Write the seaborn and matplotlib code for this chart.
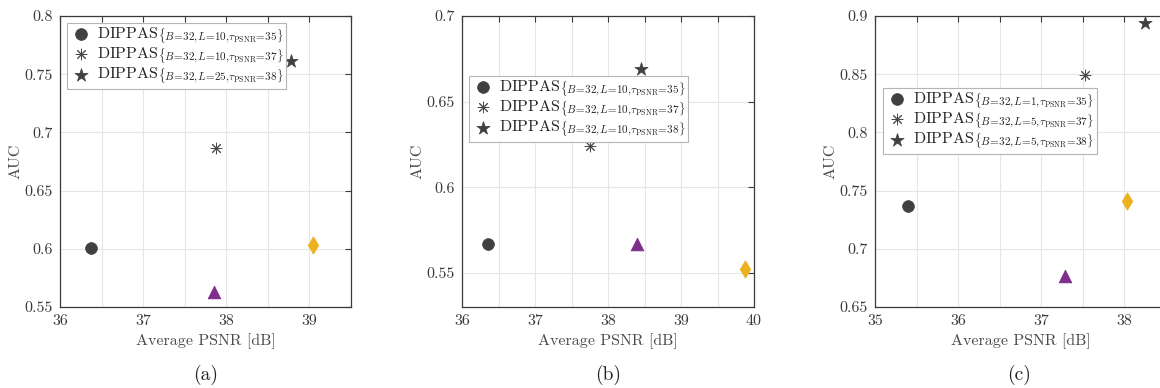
import numpy as np
import pandas as pd
import matplotlib
matplotlib.use("Agg")
import matplotlib.pyplot as plt
from matplotlib.ticker import MultipleLocator, FuncFormatter
import seaborn as sns

# ---- data: (Average PSNR [dB], AUC) per method, one panel per scenario ----
methods = ["dippas_35", "dippas_37", "dippas_38", "baseline_tri", "baseline_dia"]

psnr_a = [36.37, 37.88, 38.78, 37.85, 39.04]
auc_a = [0.601, 0.687, 0.761, 0.563, 0.603]

psnr_b = [36.35, 37.75, 38.45, 38.40, 39.88]
auc_b = [0.567, 0.624, 0.669, 0.567, 0.552]

psnr_c = [35.40, 37.52, 38.25, 37.28, 38.03]
auc_c = [0.737, 0.849, 0.894, 0.677, 0.741]

# legend entries: (L, tau_PSNR) of each DIPPAS configuration, B fixed to 32
cfg_a = [(10, 35), (10, 37), (25, 38)]
cfg_b = [(10, 35), (10, 37), (10, 38)]
cfg_c = [(1, 35), (5, 37), (5, 38)]

captions = ["(a)", "(b)", "(c)"]


def dippas_label(L, tau):
    return (r"DIPPAS$_{\{B\!=\!32,\!L\!=\!%d,\!\tau_{\mathrm{PSNR}}\!=\!%d\}}$"
            % (L, tau))


# ---- styling ----
sns.set_theme(style="white")
plt.rcParams.update({
    "font.family": "serif",
    "font.serif": ["cmr10", "DejaVu Serif"],
    "mathtext.fontset": "cm",
    "axes.formatter.use_mathtext": True,
    "axes.unicode_minus": False,
})

GRAY = "#404040"
PURPLE = "#7E2F8E"
ORANGE = "#EDB120"
AXIS = "#3a3a3a"

marker_styles = {
    "dippas_35": dict(marker="o", color=GRAY, s=72),
    "dippas_37": dict(marker=(8, 2, 0), color="#4a4a4a", s=60, linewidth=0.7),
    "dippas_38": dict(marker="*", color=GRAY, s=100),
    "baseline_tri": dict(marker="^", color=PURPLE, s=85),
    "baseline_dia": dict(marker="d", color=ORANGE, s=80),
}

W, H = 1160, 388
fig = plt.figure(figsize=(W / 100, H / 100), dpi=100)

panels = [
    dict(psnr=psnr_a, auc=auc_a, cfg=cfg_a, left=60, xlim=(36, 39.5),
         ylim=(0.55, 0.80), legend_xy=(67, 23)),
    dict(psnr=psnr_b, auc=auc_b, cfg=cfg_b, left=462, xlim=(36, 40),
         ylim=(0.53, 0.70), legend_xy=(469, 76)),
    dict(psnr=psnr_c, auc=auc_c, cfg=cfg_c, left=875, xlim=(35, 38.5),
         ylim=(0.65, 0.90), legend_xy=(883, 88)),
]
ax_w = [291, 292, 291]
ax_top, ax_bottom = 16, 307


def half_formatter(v, pos):
    if abs(v - round(v)) < 1e-6:
        return "%d" % round(v)
    return ""


for i, p in enumerate(panels):
    ax = fig.add_axes([p["left"] / W, 1 - ax_bottom / H, ax_w[i] / W,
                       (ax_bottom - ax_top) / H])
    df = pd.DataFrame({"method": methods, "psnr": p["psnr"], "auc": p["auc"]})
    for j, m in enumerate(methods):
        row = df[df["method"] == m]
        st = dict(marker_styles[m])
        lab = dippas_label(*p["cfg"][j]) if j < 3 else None
        kw = dict(marker=st["marker"], s=st["s"], ax=ax, label=lab, zorder=3)
        if isinstance(st["marker"], tuple):
            kw.update(color=st["color"], linewidth=st["linewidth"])
        else:
            kw.update(color=st["color"], edgecolor=st["color"], linewidth=0.5)
        sns.scatterplot(data=row, x="psnr", y="auc", **kw)

    ax.set_xlim(*p["xlim"])
    ax.set_ylim(*p["ylim"])
    ax.xaxis.set_major_locator(MultipleLocator(0.5))
    ax.xaxis.set_major_formatter(FuncFormatter(half_formatter))
    ax.yaxis.set_major_locator(MultipleLocator(0.05))
    ax.yaxis.set_major_formatter(FuncFormatter(lambda v, pos: "%g" % round(v, 4)))
    ax.grid(True, color="#e6e6e6", linewidth=0.8, zorder=0)
    ax.set_axisbelow(True)
    ax.tick_params(direction="in", length=4, width=0.8, top=True, right=True,
                   colors=AXIS, labelsize=11.5, pad=5)
    for sp in ax.spines.values():
        sp.set_color(AXIS)
        sp.set_linewidth(0.9)
    ax.set_xlabel("Average PSNR [dB]", fontsize=11.5, color="#4a4a4a", labelpad=4)
    ax.set_ylabel("AUC", fontsize=11.5, color="#4a4a4a", labelpad=2)

    lx, ly = p["legend_xy"]
    leg = ax.legend(loc="upper left", bbox_to_anchor=(lx / W, 1 - ly / H),
                    bbox_transform=fig.transFigure, borderaxespad=0,
                    fancybox=False, framealpha=1, edgecolor="#b5b5b5",
                    fontsize=11.5, handletextpad=0.35, borderpad=0.15,
                    labelspacing=0.0, handlelength=1.4)
    leg.get_frame().set_linewidth(0.8)
    for t in leg.get_texts():
        t.set_color("#262626")

    cx = (p["left"] + ax_w[i] / 2) / W
    if i == 2:
        cx = 1019 / W
    fig.text(cx, 1 - 375 / H, captions[i], ha="center", va="center",
             fontsize=14, color="#222222")

fig.savefig("out.png", dpi=100)
